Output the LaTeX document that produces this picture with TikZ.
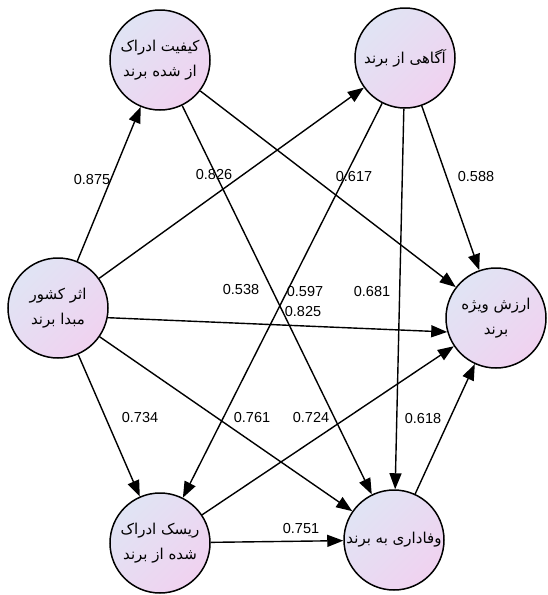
\documentclass[tikz,border=0pt]{standalone}
\usepackage{fontspec}
\setmainfont{Liberation Sans}
\newfontfamily\farsifont[Script=Arabic]{DejaVu Sans}
\TeXXeTstate=1
\usetikzlibrary{arrows.meta}

\definecolor{shadetop}{RGB}{224,228,244}
\definecolor{shadebot}{RGB}{240,210,240}

\tikzset{
    construct/.style={draw, circle, line width=1.5pt, minimum size=100pt, inner sep=0pt,
        top color=shadetop, bottom color=shadebot, shading angle=45,
        align=center, font=\farsifont\fontsize{15}{25}\selectfont},
    link/.style={draw, line width=1.4pt, -{Triangle[length=16pt,width=12pt]}},
    coef/.style={inner sep=1pt, font=\fontsize{14.5}{17}\selectfont}
}

\begin{document}
\begin{tikzpicture}[x=1pt,y=-1pt]
        \useasboundingbox (0,0) rectangle (548,595);

        \node[construct] (1) at (58,308) {\beginR اثر کشور\endR\\\beginR مبدا برند\endR};
        \node[construct] (2) at (160,60) {\beginR کیفیت ادراک\endR\\\beginR از شده برند\endR};
        \node[construct] (3) at (405,58) {\beginR آگاهی از برند\endR};
        \node[construct] (4) at (496,318) {\beginR ارزش ویژه\endR\\\beginR برند\endR};
        \node[construct] (5) at (160,543) {\beginR ریسک ادراک\endR\\\beginR شده از برند\endR};
        \node[construct] (6) at (394,540) {\beginR وفاداری به برند\endR};

        \path[link] (1) -- (2);
        \path[link] (1) -- (3);
        \path[link] (1.-11) -- (4.196);
        \path[link] (1) -- (5);
        \path[link] (1) -- (6);
        \path[link] (2) -- (4);
        \path[link] (2) -- (6);
        \path[link] (3) -- (4);
        \path[link] (3) -- (5);
        \path[link] (3) -- (6);
        \path[link] (5) -- (4);
        \path[link] (5) -- (6);
        \path[link] (6) -- (4);

        \node[coef] (c12) at (92,180) {0.875};
        \node[coef] (c26) at (214,175) {0.826};
        \node[coef] (c24) at (354,177) {0.617};
        \node[coef] (c34) at (476,177) {0.588};
        \node[coef] (c35) at (241,290) {0.538};
        \node[coef] (c13) at (305,292) {0.597};
        \node[coef] (c36) at (372,292) {0.681};
        \node[coef] (c14) at (303,312) {0.825};
        \node[coef] (c15) at (140,418) {0.734};
        \node[coef] (c16) at (252,418) {0.761};
        \node[coef] (c54) at (311,418) {0.724};
        \node[coef] (c64) at (423,419) {0.618};
        \node[coef] (c56) at (301,529) {0.751};
    \end{tikzpicture}
\end{document}
